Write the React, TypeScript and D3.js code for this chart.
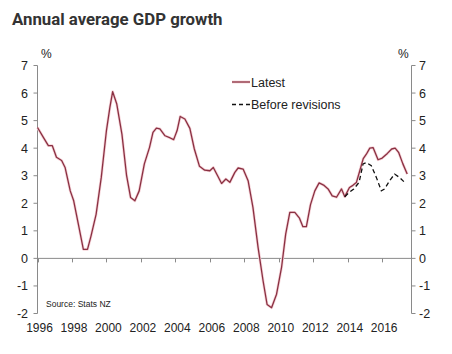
import * as d3 from "d3";

// Annual average GDP growth, %, quarterly readings
const latestDates = [
  1996.0, 1996.34, 1996.63, 1996.86, 1997.1, 1997.4, 1997.6, 1997.9, 1998.1, 1998.37,
  1998.66, 1998.9, 1999.1, 1999.4, 1999.7, 2000.0, 2000.2, 2000.36, 2000.6, 2000.9,
  2001.17, 2001.4, 2001.65, 2001.9, 2002.2, 2002.5, 2002.7, 2002.9, 2003.1, 2003.4,
  2003.7, 2003.9, 2004.1, 2004.28, 2004.55, 2004.84, 2005.1, 2005.4, 2005.7, 2006.0,
  2006.2, 2006.45, 2006.68, 2006.93, 2007.16, 2007.45, 2007.64, 2007.93, 2008.22, 2008.5,
  2008.8, 2009.09, 2009.32, 2009.58, 2009.87, 2010.16, 2010.4, 2010.64, 2010.93, 2011.2,
  2011.4, 2011.6, 2011.84, 2012.09, 2012.34, 2012.6, 2012.86, 2013.1, 2013.35, 2013.64,
  2013.83, 2014.1, 2014.3, 2014.5, 2014.7, 2014.9, 2015.08, 2015.28, 2015.47, 2015.76,
  2016.0, 2016.3, 2016.55, 2016.75, 2016.95, 2017.2, 2017.45,
];
const latestValues = [
  4.75, 4.39, 4.09, 4.09, 3.67, 3.55, 3.3, 2.45, 2.09, 1.24,
  0.33, 0.33, 0.8, 1.6, 2.94, 4.64, 5.48, 6.05, 5.6, 4.5,
  3.0, 2.21, 2.09, 2.45, 3.43, 4.03, 4.57, 4.73, 4.7, 4.45,
  4.37, 4.31, 4.64, 5.15, 5.06, 4.72, 3.97, 3.34, 3.2, 3.18,
  3.3, 3.0, 2.72, 2.88, 2.76, 3.12, 3.28, 3.24, 2.82, 1.85,
  0.39, -0.82, -1.67, -1.79, -1.3, -0.33, 0.88, 1.67, 1.67, 1.46,
  1.15, 1.15, 1.95, 2.45, 2.74, 2.66, 2.52, 2.27, 2.22, 2.52,
  2.24, 2.57, 2.65, 2.75, 3.18, 3.62, 3.78, 4.0, 4.02, 3.58,
  3.64, 3.81, 3.97, 4.0, 3.85, 3.43, 3.06,
];
const beforeDates = [
  2013.83, 2014.08, 2014.35, 2014.66, 2014.89, 2015.08, 2015.37, 2015.66, 2015.95, 2016.14,
  2016.43, 2016.72, 2017.0, 2017.3,
];
const beforeValues = [
  2.24, 2.39, 2.52, 2.76, 3.43, 3.48, 3.36, 2.94, 2.45, 2.52,
  2.82, 3.06, 2.94, 2.76,
];
const yTicks = [7, 6, 5, 4, 3, 2, 1, 0, -1, -2];
const xTicks = [1996, 1998, 2000, 2002, 2004, 2006, 2008, 2010, 2012, 2014, 2016];
const legendLabels = ["Latest", "Before revisions"];

const W = 452, H = 354;
const x = d3.scaleLinear().domain([1996, 2017.7]).range([37.5, 411.5]);
const y = d3.scaleLinear().domain([-2, 7]).range([313.5, 65.5]);

const latest = latestDates.map((d, i) => [d, latestValues[i]] as [number, number]);
const before = beforeDates.map((d, i) => [d, beforeValues[i]] as [number, number]);

const line = d3.line<[number, number]>().x(d => x(d[0])).y(d => y(d[1]));

const axisColor = "#8a8a8a";
const textColor = "#222";
const lineColor = "#8a3042";
const haloColor = "#f5d3d8";
const font = "'Liberation Sans', Arial, sans-serif";

export default function App() {
  return (
    <svg width={W} height={H} style={{ position: "absolute", left: 0, top: 0, background: "#fff" }}>
      <rect width={W} height={H} fill="#fff" />
      <text x={12} y={25} fontFamily="Roboto, sans-serif" fontWeight={700} fontSize={16.8} fill="#333">
        Annual average GDP growth
      </text>

      {/* axes */}
      <line x1={x.range()[0]} x2={x.range()[0]} y1={y(7)} y2={y(-2)} stroke={axisColor} />
      <line x1={x.range()[1]} x2={x.range()[1]} y1={y(7)} y2={y(-2)} stroke={axisColor} />
      <line x1={x.range()[0]} x2={x.range()[1]} y1={y(0)} y2={y(0)} stroke={axisColor} />
      {yTicks.map(t => (
        <g key={t}>
          <line x1={x.range()[0] - 4} x2={x.range()[0]} y1={y(t)} y2={y(t)} stroke={axisColor} />
          <line x1={x.range()[1]} x2={x.range()[1] + 4} y1={y(t)} y2={y(t)} stroke={axisColor} />
          <text x={28} y={y(t) + 4.5} textAnchor="end" fontFamily={font} fontSize={12.5} fill={textColor}>
            {t}
          </text>
          <text x={419} y={y(t) + 4.5} fontFamily={font} fontSize={12.5} fill={textColor}>
            {t}
          </text>
        </g>
      ))}
      {xTicks.map(t => (
        <g key={t}>
          <line x1={Math.round(x(t)) + 0.5} x2={Math.round(x(t)) + 0.5} y1={y(0)} y2={y(0) + 4} stroke={axisColor} />
          <text x={x(t) + 2} y={332} textAnchor="middle" fontFamily={font} fontSize={12} fill={textColor}>
            {t}
          </text>
        </g>
      ))}
      <text x={41} y={58} fontFamily={font} fontSize={12} fill={textColor}>%</text>
      <text x={398} y={58} fontFamily={font} fontSize={12} fill={textColor}>%</text>

      <text x={46} y={307} fontFamily={font} fontSize={8.5} fill={textColor}>Source: Stats NZ</text>

      {/* series */}
      <path d={line(latest) ?? ""} fill="none" stroke={haloColor} strokeWidth={2.8} strokeLinejoin="round" />
      <path d={line(latest) ?? ""} fill="none" stroke={lineColor} strokeWidth={1.3} strokeLinejoin="round" />
      <path d={line(before) ?? ""} fill="none" stroke="#111" strokeWidth={1.3} strokeDasharray="4.5,3" />

      {/* legend */}
      <line x1={232} x2={250} y1={82} y2={82} stroke={haloColor} strokeWidth={2.8} />
      <line x1={232} x2={250} y1={82} y2={82} stroke={lineColor} strokeWidth={1.3} />
      <text x={251} y={86.5} fontFamily={font} fontSize={12.5} fill={textColor}>{legendLabels[0]}</text>
      <line x1={232} x2={250} y1={104.5} y2={104.5} stroke="#111" strokeWidth={1.3} strokeDasharray="4,3" />
      <text x={251} y={109} fontFamily={font} fontSize={12.5} fill={textColor}>{legendLabels[1]}</text>
    </svg>
  );
}
